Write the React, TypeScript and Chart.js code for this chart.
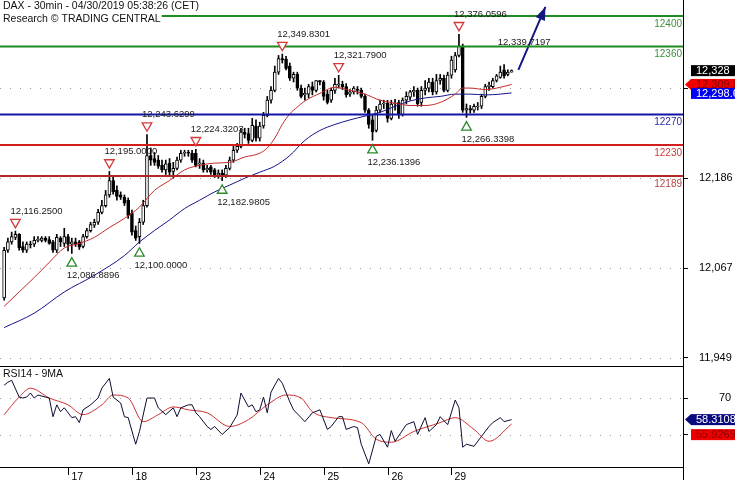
import React, { useEffect, useRef } from 'react';
import { Chart, registerables } from 'chart.js';
Chart.register(...registerables);

const FONT = '"Liberation Sans", Arial, sans-serif';

// ---------- DATA ----------
const DAY_LABELS = ['17', '18', '23', '24', '25', '26', '29'];
const DAY_START = [17, 34, 51, 68, 85, 102, 119];

const OPEN = [12028,12091,12102,12108,12112,12096,12091,12099,12099,12104,12104,12107,12105,12102,12091,12107,12100,12109,12099,12102,12102,12096,12109,12117,12124,12128,12141,12150,12164,12183,12170,12164,12161,12157,12140,12117,12109,12128,12150,12216,12212,12210,12203,12197,12206,12195,12199,12210,12219,12220,12219,12219,12205,12206,12197,12201,12197,12190,12193,12190,12199,12210,12223,12228,12247,12245,12236,12255,12239,12255,12269,12289,12302,12326,12344,12343,12334,12318,12323,12305,12296,12297,12307,12302,12315,12313,12297,12289,12302,12309,12310,12307,12297,12300,12303,12302,12294,12276,12263,12249,12276,12284,12285,12265,12284,12286,12270,12289,12293,12300,12302,12286,12302,12305,12313,12300,12315,12318,12302,12322,12329,12348,12360,12276,12278,12276,12280,12281,12294,12307,12307,12315,12319,12329,12323,12326];
const HIGH = [12095,12107,12115,12116.25,12113,12102,12102,12103,12109,12109,12109,12109,12109,12104,12112,12109,12120,12112,12107,12107,12104,12112,12120,12128,12132,12145,12157,12170,12195,12189,12176,12168,12164,12160,12144,12123,12133,12157,12243.63,12226,12220,12216,12210,12210,12212,12207,12214,12223,12223,12223,12223,12224.32,12212,12210,12203,12203,12199,12197,12197,12203,12214,12228,12232,12252,12252,12252,12265,12263,12260,12273,12294,12307,12334,12348,12349.83,12347,12338,12326,12326,12309,12305,12310,12313,12315,12315,12315,12302,12305,12318,12321.79,12314,12311,12303,12307,12307,12305,12297,12278,12270,12281,12289,12289,12289,12289,12290,12289,12292,12300,12302,12307,12305,12307,12315,12318,12318,12323,12323,12322,12326,12347,12352,12376.06,12363,12284,12282,12284,12286,12297,12310,12313,12318,12323,12334,12336,12329,12329];
const LOW = [12025,12088,12099,12105,12091,12088,12088,12094,12096,12102,12102,12102,12099,12088,12088,12096,12096,12090,12086.89,12096,12092,12094,12107,12115,12121,12125,12139,12148,12161,12165,12157,12158,12150,12133,12111,12104,12100,12125,12148,12203,12203,12199,12194,12191,12190,12186,12197,12207,12215,12215,12207,12201,12199,12194,12194,12191,12187,12186,12182.98,12187,12197,12207,12220,12226,12239,12232,12234,12235,12235,12252,12267,12285,12300,12323,12338,12329,12315,12313,12302,12292,12289,12292,12296,12300,12309,12289,12284,12286,12298,12305,12303,12293,12294,12297,12297,12292,12273,12252,12236.14,12247,12273,12278,12260,12263,12276,12265,12268,12284,12289,12294,12281,12281,12296,12300,12296,12297,12310,12300,12300,12318,12326,12346,12273,12266.34,12272,12273,12276,12278,12292,12302,12305,12313,12318,12318,12321,12326];
const CLOSE = [12091,12102,12109,12112,12094,12091,12099,12098,12104,12105,12107,12104,12100,12091,12108,12102,12109,12099,12102,12099,12095,12109,12117,12125,12128,12141,12150,12164,12183,12168,12162,12161,12153,12137,12115,12107,12128,12150,12216,12210,12207,12202,12197,12205,12194,12199,12210,12219,12220,12219,12210,12203,12206,12197,12199,12194,12190,12193,12190,12199,12210,12223,12228,12247,12244,12236,12256,12239,12255,12269,12289,12302,12326,12344,12342,12331,12318,12323,12305,12294,12298,12307,12302,12315,12313,12294,12286,12302,12310,12310,12307,12296,12300,12305,12302,12294,12276,12257,12247,12276,12284,12285,12265,12284,12285,12270,12289,12294,12300,12302,12284,12302,12305,12313,12300,12315,12318,12302,12322,12342,12348,12360,12276,12278,12276,12281,12281,12294,12307,12309,12315,12321,12326,12321,12326,12328];

const MA_FAST_IDX = [0,4,8,12,16,20,24,28,32,36,40,44,48,52,56,60,64,68,70,72,74,76,78,80,84,88,92,96,100,104,108,112,116,120,122,124,128,132,135];
const MA_FAST = [12017,12036,12055,12075,12094,12100,12108,12121,12133,12148,12170,12183,12197,12203,12206,12207,12214,12219,12226,12239,12257,12271,12280,12288,12298,12306,12302,12297,12289,12285,12282,12282,12286,12297,12305,12305,12303,12306,12309.8];
const MA_SLOW_IDX = [0,8,16,24,32,36,40,44,48,52,56,60,64,68,72,76,80,84,88,92,96,100,104,108,112,116,120,124,128,132,135];
const MA_SLOW = [11989,12008,12036,12058,12084,12102,12117,12131,12146,12157,12168,12177,12186,12194,12202,12216,12236,12249,12257,12263,12268,12273,12281,12288,12292,12294,12297,12297,12296,12297,12298.6];

const RSI_IDX = [0,1,2,4,5,6,7,8,9,11,12,13,14,15,16,18,19,20,21,23,25,26,28,29,31,32,33,35,36,38,40,41,43,45,46,47,49,50,51,52,54,55,56,58,60,62,63,65,66,67,68,69,70,71,73,74,76,77,79,80,82,84,86,87,89,90,91,93,94,95,97,99,100,102,103,104,107,109,110,112,113,115,116,118,120,121,122,123,125,127,129,130,132,133,135];
const RSI = [76.9,78.5,79.6,70.5,70,70.5,72.7,70,71.6,70.5,70,59.9,66.3,62.6,64.7,59.4,59.9,56.7,63.6,66.3,70,75.3,80.6,70.5,67.3,59.9,59.4,45,51.9,70,70,64.7,61,64.7,59.9,64.7,66.3,66.3,62,59.9,54.6,53,54.6,50.3,54,60.9,72.7,65.2,66.3,62.6,63.6,70.5,62,73.2,80.6,78,67.9,63.6,59.4,57.2,62,63.6,53,54.6,59.9,59.9,53,54.6,54,45,34.4,49.3,50.3,43.4,52.4,46.6,55.6,57.2,50.3,59.4,51.9,55.6,59.9,55.6,68.9,64.7,43.4,45,43.9,49.3,54.6,56.7,59.4,57.2,58.3108];
const RSI_MA_IDX = [0,4,7,12,17,21,26,29,33,37,41,45,49,54,60,65,70,75,79,82,87,95,99,103,109,116,120,125,129,135];
const RSI_MA = [61,70.5,75.3,70,66.3,61,66.3,71.6,70,57.2,61,65.2,63.6,62,54.6,58.3,66.3,71.6,70,62.6,59.4,56.7,47.7,46.1,51.9,56.7,59.4,53,46.6,55.9269];

const LEVELS = [12400, 12360, 12270, 12230, 12189];
const LEVEL_LINE = ['#1f8a1f', '#1f8a1f', '#1414a8', '#d41e1e', '#b02828'];
const LEVEL_TEXT = ['#3d8f3d', '#3d8f3d', '#2a2aa0', '#c83a3a', '#b04646'];

const PEAK_IDX = [3, 28, 38, 51, 74, 89, 121];
const PEAK_VAL = [12116.25, 12195.0, 12243.6299, 12224.3203, 12349.8301, 12321.79, 12376.0596];
const TROUGH_IDX = [18, 36, 58, 98, 123];
const TROUGH_VAL = [12086.8896, 12100.0, 12182.9805, 12236.1396, 12266.3398];

const TARGET_IDX = 131.3;
const TARGET = 12339.7197;
const ARROW_X = [136.8, 144];
const ARROW_Y = [12329, 12412];

const PRICE_TICKS = [11949, 12067, 12186, 12305];
const RSI_TICKS = [50, 70];

const LAST_PRICE = 12328;
const MA_FAST_LAST = 12309.8;
const MA_SLOW_LAST = 12298.6;
const RSI_LAST = 58.3108;
const RSI_MA_LAST = 55.9269;

const X_MIN = -1.1;
const X_MAX = 180.6;
const P_MIN = 11938.3;
const P_MAX = 12421.2;
const R_MIN = 32.7;
const R_MAX = 87.3;

// ---------- helpers ----------
const fmt4 = (v: number) => v.toLocaleString('en-US', { minimumFractionDigits: 4, maximumFractionDigits: 4 });
const fmt1 = (v: number) => v.toLocaleString('en-US', { minimumFractionDigits: 1, maximumFractionDigits: 1 });

function tri(ctx: CanvasRenderingContext2D, x: number, y: number, up: boolean, color: string) {
  const w = 4.8, h = 4.2;
  ctx.beginPath();
  if (up) { ctx.moveTo(x, y - h); ctx.lineTo(x + w, y + h); ctx.lineTo(x - w, y + h); }
  else { ctx.moveTo(x, y + h); ctx.lineTo(x + w, y - h); ctx.lineTo(x - w, y - h); }
  ctx.closePath();
  ctx.fillStyle = '#fff'; ctx.fill();
  ctx.strokeStyle = color; ctx.lineWidth = 1.3; ctx.stroke();
}

type Box = { v: number; text: string; bg: string; fg: string; arrow: boolean; gap: number };
function drawBoxes(ctx: CanvasRenderingContext2D, scale: any, left: number, items: Box[]) {
  let prevBottom = -1e9;
  ctx.font = `11px ${FONT}`;
  ctx.textAlign = 'left';
  ctx.textBaseline = 'middle';
  for (const it of items) {
    const h = 11;
    let top = scale.getPixelForValue(it.v) - h / 2;
    if (top < prevBottom + it.gap) top = prevBottom + it.gap;
    ctx.fillStyle = it.bg;
    ctx.fillRect(left + 8, top, 60, h);
    if (it.arrow) {
      ctx.beginPath();
      ctx.moveTo(left + 2, top + h / 2);
      ctx.lineTo(left + 8, top);
      ctx.lineTo(left + 8, top + h);
      ctx.closePath();
      ctx.fill();
    }
    ctx.fillStyle = it.fg;
    ctx.fillText(it.text, left + 13, top + h / 2 + 0.5);
    prevBottom = top + h;
  }
}

// ---------- plugins ----------
const mainPlugin = {
  id: 'mainDecor',
  beforeDatasetsDraw(chart: any) {
    const { ctx, chartArea: a, scales } = chart;
    ctx.save();
    ctx.strokeStyle = '#9c9c9c';
    ctx.lineWidth = 1;
    ctx.setLineDash([1, 9]);
    for (const v of PRICE_TICKS) {
      const py = Math.round(scales.y.getPixelForValue(v)) + 0.5;
      ctx.beginPath(); ctx.moveTo(a.left, py); ctx.lineTo(a.right, py); ctx.stroke();
    }
    ctx.restore();
  },
  afterDatasetsDraw(chart: any) {
    const { ctx, chartArea: a, scales } = chart;
    const x = scales.x, y = scales.y;
    ctx.save();
    // level labels
    ctx.font = `10px ${FONT}`;
    ctx.textAlign = 'right';
    ctx.textBaseline = 'middle';
    LEVELS.forEach((lv, k) => {
      ctx.fillStyle = LEVEL_TEXT[k];
      ctx.fillText(String(lv), a.right - 1, y.getPixelForValue(lv) + 8);
    });
    // markers
    ctx.textAlign = 'left';
    PEAK_IDX.forEach((i, k) => {
      const px = x.getPixelForValue(i);
      const py = y.getPixelForValue(PEAK_VAL[k]) - 7.5;
      tri(ctx, px, py, false, '#d23a3a');
      ctx.font = `9.5px ${FONT}`;
      ctx.fillStyle = '#1a1a1a';
      ctx.fillText(fmt4(PEAK_VAL[k]), px - 5, py - 12.5);
    });
    TROUGH_IDX.forEach((i, k) => {
      const px = x.getPixelForValue(i);
      const py = y.getPixelForValue(TROUGH_VAL[k]) + 8.5;
      tri(ctx, px, py, true, '#2a8a2a');
      ctx.font = `9.5px ${FONT}`;
      ctx.fillStyle = '#1a1a1a';
      ctx.fillText(fmt4(TROUGH_VAL[k]), px - 5, py + 13.5);
    });
    // target label
    ctx.font = `9.5px ${FONT}`;
    ctx.fillStyle = '#1a1a1a';
    ctx.fillText(fmt4(TARGET), x.getPixelForValue(TARGET_IDX), y.getPixelForValue(TARGET) - 19);
    // arrow head
    const x0 = x.getPixelForValue(ARROW_X[0]), y0 = y.getPixelForValue(ARROW_Y[0]);
    const x1 = x.getPixelForValue(ARROW_X[1]), y1 = y.getPixelForValue(ARROW_Y[1]);
    const ang = Math.atan2(y1 - y0, x1 - x0);
    const L = 13, W = 5;
    const c = Math.cos(ang), s = Math.sin(ang);
    ctx.fillStyle = '#16167e';
    ctx.beginPath();
    ctx.moveTo(x1, y1);
    ctx.lineTo(x1 - L * c + W * s, y1 - L * s - W * c);
    ctx.lineTo(x1 - L * c - W * s, y1 - L * s + W * c);
    ctx.closePath();
    ctx.fill();
    ctx.restore();
  },
  afterDraw(chart: any) {
    const { ctx, chartArea: a, scales } = chart;
    ctx.save();
    // header
    ctx.font = `10.5px ${FONT}`;
    ctx.textAlign = 'left';
    ctx.textBaseline = 'middle';
    const l1 = 'DAX - 30min - 04/30/2019 05:38:26 (CET)';
    const l2 = 'Research \u00A9 TRADING CENTRAL';
    const w2 = ctx.measureText(l2).width;
    ctx.fillStyle = '#fff';
    ctx.fillRect(0, 12, w2 + 4, 13);
    ctx.fillStyle = '#111';
    ctx.fillText(l1, 3, 6.5);
    ctx.fillText(l2, 3, 19);
    // value boxes
    drawBoxes(ctx, scales.y, a.right, [
      { v: LAST_PRICE, text: LAST_PRICE.toLocaleString('en-US'), bg: '#000', fg: '#fff', arrow: false, gap: 0 },
      { v: MA_FAST_LAST, text: fmt1(MA_FAST_LAST) + '00', bg: '#f00000', fg: '#8a0000', arrow: true, gap: 0 },
      { v: MA_SLOW_LAST, text: fmt1(MA_SLOW_LAST) + '00', bg: '#0000f0', fg: '#fff', arrow: false, gap: -2 },
    ]);
    ctx.restore();
  },
};

const rsiPlugin = {
  id: 'rsiDecor',
  beforeDatasetsDraw(chart: any) {
    const { ctx, chartArea: a, scales } = chart;
    ctx.save();
    ctx.strokeStyle = '#9c9c9c';
    ctx.lineWidth = 1;
    ctx.setLineDash([1, 9]);
    for (const v of RSI_TICKS) {
      const py = Math.round(scales.y.getPixelForValue(v)) + 0.5;
      ctx.beginPath(); ctx.moveTo(a.left, py); ctx.lineTo(a.right, py); ctx.stroke();
    }
    ctx.restore();
  },
  afterDraw(chart: any) {
    const { ctx, chartArea: a, scales } = chart;
    const x = scales.x;
    ctx.save();
    ctx.strokeStyle = '#000';
    ctx.lineWidth = 1;
    ctx.beginPath();
    ctx.moveTo(a.left, 0.5); ctx.lineTo(a.right, 0.5);
    ctx.moveTo(a.left, a.bottom + 0.5); ctx.lineTo(a.right, a.bottom + 0.5);
    ctx.moveTo(a.right + 0.5, 0); ctx.lineTo(a.right + 0.5, chart.height);
    ctx.stroke();
    // day ticks and labels
    ctx.font = `10.5px ${FONT}`;
    ctx.textAlign = 'left';
    ctx.textBaseline = 'middle';
    ctx.fillStyle = '#000';
    DAY_START.forEach((i, k) => {
      const px = Math.round(x.getPixelForValue(i)) + 0.5;
      ctx.beginPath(); ctx.moveTo(px, a.bottom); ctx.lineTo(px, a.bottom + 8); ctx.stroke();
      ctx.fillText(DAY_LABELS[k], px + 3, a.bottom + 10);
    });
    // panel title
    const t = 'RSI14 - 9MA';
    ctx.font = `10.5px ${FONT}`;
    const tw = ctx.measureText(t).width;
    ctx.fillStyle = '#fff';
    ctx.fillRect(2, 2, tw + 3, 11);
    ctx.fillStyle = '#111';
    ctx.fillText(t, 3, 8);
    drawBoxes(ctx, scales.y, a.right, [
      { v: RSI_LAST, text: RSI_LAST.toFixed(4), bg: '#0a0a80', fg: '#fff', arrow: true, gap: 0 },
      { v: RSI_MA_LAST, text: RSI_MA_LAST.toFixed(4), bg: '#f00000', fg: '#8a0000', arrow: false, gap: 4 },
    ]);
    ctx.restore();
  },
};

// ---------- component ----------
export default function App() {
  const topRef = useRef<HTMLCanvasElement>(null);
  const botRef = useRef<HTMLCanvasElement>(null);

  useEffect(() => {
    const idx = OPEN.map((_, i) => i);
    const bodyColors = idx.map(i => (CLOSE[i] >= OPEN[i] ? '#ffffff' : '#000000'));

    const levelSets = LEVELS.map((lv, k) => ({
      type: 'line' as const,
      data: [{ x: X_MIN, y: lv }, { x: X_MAX, y: lv }],
      borderColor: LEVEL_LINE[k],
      borderWidth: 2,
      pointRadius: 0,
      order: 0,
    }));

    const yAfterFit = (w: number) => (s: any) => { s.width = w; s.paddingTop = 0; s.paddingBottom = 0; };

    const top = new Chart(topRef.current as HTMLCanvasElement, {
      type: 'bar',
      data: {
        datasets: [
          {
            type: 'bar',
            data: idx.map(i => ({ x: i, y: [LOW[i], HIGH[i]] })) as any,
            backgroundColor: '#000',
            barThickness: 1,
            grouped: false,
            order: 4,
          },
          {
            type: 'bar',
            data: idx.map(i => ({ x: i, y: [Math.min(OPEN[i], CLOSE[i]), Math.max(OPEN[i], CLOSE[i])] })) as any,
            backgroundColor: bodyColors,
            borderColor: '#000',
            borderWidth: 1,
            borderSkipped: false,
            barThickness: 3,
            minBarLength: 1,
            grouped: false,
            order: 3,
          },
          {
            type: 'line',
            data: MA_FAST_IDX.map((i, k) => ({ x: i, y: MA_FAST[k] })),
            borderColor: '#c42a2a',
            borderWidth: 1,
            pointRadius: 0,
            cubicInterpolationMode: 'monotone',
            order: 2,
          },
          {
            type: 'line',
            data: MA_SLOW_IDX.map((i, k) => ({ x: i, y: MA_SLOW[k] })),
            borderColor: '#14148c',
            borderWidth: 1,
            pointRadius: 0,
            cubicInterpolationMode: 'monotone',
            order: 2,
          },
          ...levelSets,
          {
            type: 'line',
            data: ARROW_X.map((v, k) => ({ x: v, y: ARROW_Y[k] })),
            borderColor: '#16167e',
            borderWidth: 2,
            pointRadius: 0,
            order: 0,
            clip: false,
          },
        ] as any,
      },
      options: {
        animation: false,
        responsive: false,
        devicePixelRatio: 1,
        layout: { padding: { left: 0, right: 3, top: 0, bottom: 0 } },
        plugins: { legend: { display: false }, tooltip: { enabled: false } },
        scales: {
          x: { type: 'linear', min: X_MIN, max: X_MAX, display: false, offset: false },
          y: {
            type: 'linear',
            position: 'right',
            min: P_MIN,
            max: P_MAX,
            beginAtZero: false,
            bounds: 'data',
            afterBuildTicks: (s: any) => { s.ticks = PRICE_TICKS.map(v => ({ value: v })); },
            afterFit: yAfterFit(49),
            grid: { drawOnChartArea: false, drawTicks: true, tickLength: 5, color: '#000', tickColor: '#000' },
            border: { display: true, color: '#000', width: 1 },
            ticks: {
              padding: 11,
              color: '#000',
              font: { family: FONT, size: 11 },
              callback: (v: any) => Number(v).toLocaleString('en-US'),
            },
          },
        },
      } as any,
      plugins: [mainPlugin],
    });

    const bot = new Chart(botRef.current as HTMLCanvasElement, {
      type: 'line',
      data: {
        datasets: [
          {
            data: RSI_IDX.map((i, k) => ({ x: i, y: RSI[k] })),
            borderColor: '#0c0c30',
            borderWidth: 1,
            pointRadius: 0,
            tension: 0,
            order: 1,
          },
          {
            data: RSI_MA_IDX.map((i, k) => ({ x: i, y: RSI_MA[k] })),
            borderColor: '#cc3030',
            borderWidth: 1,
            pointRadius: 0,
            cubicInterpolationMode: 'monotone',
            order: 2,
          },
        ],
      },
      options: {
        animation: false,
        responsive: false,
        devicePixelRatio: 1,
        layout: { padding: { left: 0, right: 3, top: 0, bottom: 13 } },
        plugins: { legend: { display: false }, tooltip: { enabled: false } },
        scales: {
          x: { type: 'linear', min: X_MIN, max: X_MAX, display: false, offset: false },
          y: {
            type: 'linear',
            position: 'right',
            min: R_MIN,
            max: R_MAX,
            bounds: 'data',
            afterBuildTicks: (s: any) => { s.ticks = RSI_TICKS.map(v => ({ value: v })); },
            afterFit: yAfterFit(49),
            grid: { drawOnChartArea: false, drawTicks: true, tickLength: 5, color: '#000', tickColor: '#000' },
            border: { display: true, color: '#000', width: 1 },
            ticks: {
              padding: 31,
              color: '#000',
              font: { family: FONT, size: 11 },
              callback: (v: any) => String(v),
            },
          },
        },
      } as any,
      plugins: [rsiPlugin],
    });

    return () => { top.destroy(); bot.destroy(); };
  }, []);

  return (
    <div style={{ position: 'absolute', left: 0, top: 0, width: 735, height: 480, background: '#fff', overflow: 'hidden' }}>
      <canvas ref={topRef} width={735} height={366} style={{ display: 'block', width: 735, height: 366 }} />
      <canvas ref={botRef} width={735} height={114} style={{ display: 'block', width: 735, height: 114 }} />
    </div>
  );
}
